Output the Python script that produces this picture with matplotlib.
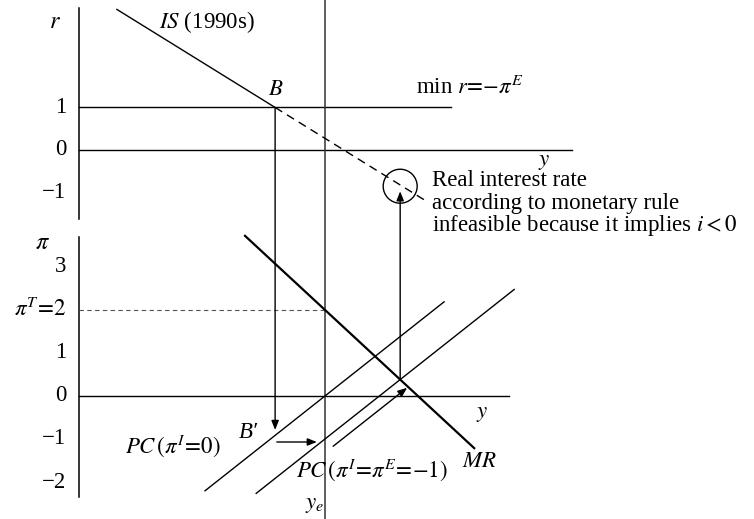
import numpy as np
import matplotlib.pyplot as plt
from matplotlib.patches import Ellipse

plt.rcParams["font.family"] = ["Liberation Serif", "DejaVu Serif"]
plt.rcParams["mathtext.fontset"] = "stix"

# model values (output measured relative to y_e)
r_ticks = [1, 0, -1]
pi_ticks = [3, 2, 1, 0, -1, -2]
pi_ticklabels = ["3", r"$\pi^T\!=\!2$", "1", "0", "\u22121", "\u22122"]
r_ticklabels = ["1", "0", "\u22121"]

min_r = 1.0            # min r = -pi^E
pi_target = 2.0
pi_expected = -1.0
y_B = -1.16            # output at B
is_slope = -0.627
mr_slope = -0.926
pc_slope = 0.79
axis_x = -5.72
is_range = (-4.84, 2.40)
mr_range = (-1.86, 3.47)
pc0_range = (-2.79, 2.77)
pc1_range = (-1.60, 4.40)

FS = 16.5

fig = plt.figure(figsize=(7.54, 5.19), dpi=100)
ax_t = fig.add_axes([0, 0.557, 1, 0.443])
ax_b = fig.add_axes([0, 0, 1, 0.557])
xlim = (-325 / 43, 429 / 43)
for ax in (ax_t, ax_b):
    ax.set_xlim(*xlim)
    ax.axis("off")
ax_t.set_ylim(-1.882, 3.529)
ax_b.set_ylim(-2.860, 3.860)

# ---- top panel: IS and the zero lower bound
ax_t.plot([axis_x, axis_x], [-1.62, 3.34], color="black", lw=1.1)
ax_t.plot([axis_x, 2.93], [min_r, min_r], color="black", lw=1.0)
ax_t.plot([axis_x, 5.74], [0, 0], color="black", lw=1.0)
ax_t.axvline(0, color="#333333", lw=1.1)


def is_curve(x):
    return min_r + is_slope * (x - y_B)


xs = np.array([is_range[0], y_B])
ax_t.plot(xs, is_curve(xs), color="black", lw=1.0)
xs = np.array([y_B, is_range[1]])
ax_t.plot(xs, is_curve(xs), color="black", lw=1.0, dashes=(6, 4))

for v, lab in zip(r_ticks, r_ticklabels):
    ax_t.text(axis_x - 0.3, v, lab, ha="right", va="center", fontsize=FS)
ax_t.text(axis_x - 0.55, 3.0, "$r$", ha="center", va="center", fontsize=FS + 1)
ax_t.text(-3.86, 3.0, "$IS$ (1990s)", ha="left", va="center", fontsize=FS)
ax_t.text(y_B + 0.02, 1.42, "$B$", ha="center", va="center", fontsize=FS)
ax_t.text(2.12, 1.47, r"min $r\!=\!{-}\pi^E$", ha="left", va="center",
          fontsize=FS)
ax_t.text(5.10, -0.27, "$y$", ha="center", va="center", fontsize=FS)

# ---- bottom panel: MR and Phillips curves
ax_b.plot([axis_x, axis_x], [-2.35, 3.7], color="black", lw=1.1)
ax_b.plot([axis_x, 4.28], [0, 0], color="black", lw=1.0)
ax_b.axvline(0, color="#333333", lw=1.1)
ax_b.plot([axis_x, 0], [pi_target, pi_target], color="#555555", lw=0.8,
          dashes=(4, 3))

xs = np.array(mr_range)
ax_b.plot(xs, pi_target + mr_slope * xs, color="black", lw=1.6)
xs = np.array(pc0_range)
ax_b.plot(xs, pc_slope * xs, color="black", lw=1.0)
xs = np.array(pc1_range)
ax_b.plot(xs, pi_expected + pc_slope * xs, color="black", lw=1.0)

for v, lab in zip(pi_ticks, pi_ticklabels):
    ax_b.text(axis_x - 0.3, v, lab, ha="right", va="center", fontsize=FS)
ax_b.text(axis_x - 0.85, 3.55, r"$\pi$", ha="center", va="center",
          fontsize=FS + 1)
ax_b.text(3.65, -0.4, "$y$", ha="center", va="center", fontsize=FS)
ax_b.text(3.60, -1.53, "$MR$", ha="center", va="center", fontsize=FS)
ax_b.text(-3.55, -1.17, r"$PC\,(\pi^I\!=\!0)$", ha="center", va="center",
          fontsize=FS)
ax_b.text(1.10, -1.73, r"$PC\,(\pi^I\!=\!\pi^E\!=\!{-}1)$", ha="center",
          va="center", fontsize=FS)
ax_b.text(-1.79, -0.86, "B\u2032", style="italic", ha="center", va="center",
          fontsize=FS)
ax_b.text(-0.23, -2.53, "$y_e$", ha="center", va="center", fontsize=FS)

# ---- arrows
head = dict(arrowstyle="-|>,head_length=0.55,head_width=0.22", color="black",
            lw=1.0, shrinkA=0, shrinkB=0)
y_C = (pi_target - pi_expected) / (pc_slope - mr_slope)
pi_C = pi_target + mr_slope * y_C
ax_b.annotate("", xy=(y_B, -0.79), xytext=(y_B, min_r),
              textcoords=ax_t.transData, arrowprops=head,
              annotation_clip=False)
ax_t.annotate("", xy=(y_C, is_curve(y_C) - 0.15), xytext=(y_C, pi_C),
              textcoords=ax_b.transData, arrowprops=head,
              annotation_clip=False)
ax_b.annotate("", xy=(-0.19, -1.07), xytext=(-1.12, -1.07), arrowprops=head)
ax_b.annotate("", xy=(1.91, 0.19), xytext=(0.19, 0.19 - pc_slope * 1.72),
              arrowprops=head)

ax_t.add_patch(Ellipse((y_C, is_curve(y_C) - 0.03), 34 / 43, 34 / 42.5,
                       fill=False, color="black", lw=1.0))
ax_t.text(2.50, -0.72, "Real interest rate", ha="left", va="center",
          fontsize=FS)
ax_t.text(2.50, -1.25, "according to monetary rule", ha="left", va="center",
          fontsize=FS)
ax_t.text(2.50, -1.77, "infeasible because it implies $i < 0$", ha="left",
          va="center", fontsize=FS, clip_on=False)

fig.savefig("out.png", dpi=100)
